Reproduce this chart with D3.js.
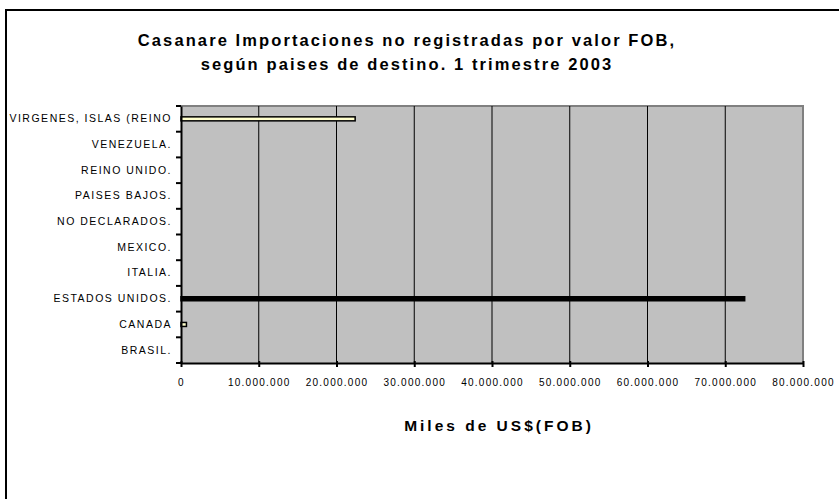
<!DOCTYPE html>
<html><head><meta charset="utf-8">
<script src="https://cdn.jsdelivr.net/npm/d3@7"></script>
<style>body{margin:0;background:#fff;} text{font-family:"Liberation Sans",Arial,sans-serif;}</style>
</head><body>
<svg id="c" width="839" height="499"></svg>
<script>
const categories = ["BRASIL.","CANADA","ESTADOS UNIDOS.","ITALIA.","MEXICO.","NO DECLARADOS.","PAISES BAJOS.","REINO UNIDO.","VENEZUELA.","VIRGENES, ISLAS (REINO"];
const values = [0, 700000, 72500000, 0, 0, 0, 0, 0, 0, 22400000];
const xTicks = [0,10000000,20000000,30000000,40000000,50000000,60000000,70000000,80000000];
const titleLines = ["Casanare Importaciones no registradas por valor FOB,","según paises de destino. 1 trimestre 2003"];
const xTitle = "Miles de US$(FOB)";

const svg = d3.select("#c");
const m = {l:181, r:803, t:106, b:363};
// outer frame
svg.append("path").attr("d","M6,499 V10 H839").attr("fill","none").attr("stroke","#000").attr("stroke-width",2);

const x = d3.scaleLinear().domain([0,80000000]).range([m.l,m.r]);
const y = d3.scaleBand().domain(categories.slice().reverse()).range([m.t,m.b]);

svg.append("rect").attr("x",m.l).attr("y",m.t).attr("width",m.r-m.l).attr("height",m.b-m.t).attr("fill","#c0c0c0");
svg.append("path").attr("d",`M${m.l},${m.t} H${m.r} V${m.b}`).attr("fill","none").attr("stroke","#808080").attr("stroke-width",2);

// gridlines
svg.append("g").selectAll("line").data(xTicks.slice(1,-1)).join("line")
  .attr("x1",d=>x(d)).attr("x2",d=>x(d)).attr("y1",m.t).attr("y2",m.b)
  .attr("stroke","#000").attr("stroke-width",1);

// bars
const barH = 4;
svg.append("g").selectAll("rect").data(categories.map((c,i)=>({c,v:values[i]})).filter(d=>d.v>0)).join("rect")
  .attr("x",x(0)).attr("y",d=>y(d.c)+y.bandwidth()/2-barH/2)
  .attr("width",d=>x(d.v)-x(0)).attr("height",barH)
  .attr("fill",d=>d.c==="ESTADOS UNIDOS."?"#000":"#ffffcc")
  .attr("stroke","#000").attr("stroke-width",1.5);

// x axis
const xa = svg.append("g").attr("transform",`translate(0,${m.b})`)
  .call(d3.axisBottom(x).tickValues(xTicks).tickSizeInner(4).tickSizeOuter(0)
    .tickFormat(d=>d3.format(",")(d).replace(/,/g,".")));
xa.select(".domain").attr("stroke","#000").attr("stroke-width",2);
xa.selectAll(".tick line").attr("y1",-2).attr("y2",4).attr("stroke","#000").attr("stroke-width",2);
xa.selectAll(".tick text").attr("y",16).attr("font-size",10).attr("letter-spacing","1.25px").attr("fill","#000");

// y axis
const ya = svg.append("g").attr("transform",`translate(${m.l},0)`)
  .call(d3.axisLeft(y).tickSize(0).tickPadding(9));
ya.select(".domain").attr("stroke","#000").attr("stroke-width",2);
ya.selectAll(".tick text").attr("font-size",10.5).attr("letter-spacing","1.5px").attr("fill","#000");
const bounds = y.domain().map(c=>y(c)).concat([m.b]);
svg.append("g").selectAll("line").data(bounds).join("line")
  .attr("x1",m.l-5).attr("x2",m.l).attr("y1",d=>d).attr("y2",d=>d)
  .attr("stroke","#000").attr("stroke-width",2);

// titles
svg.append("g").selectAll("text").data(titleLines).join("text")
  .attr("x",407).attr("y",(d,i)=>46+i*24).attr("text-anchor","middle")
  .attr("font-size",16.5).attr("font-weight","bold").attr("letter-spacing","2.1px").text(d=>d);
svg.append("text").attr("x",(m.l+m.r)/2+7).attr("y",431).attr("text-anchor","middle")
  .attr("font-size",15.5).attr("font-weight","bold").attr("letter-spacing","3px").text(xTitle);
</script>
</body></html>
